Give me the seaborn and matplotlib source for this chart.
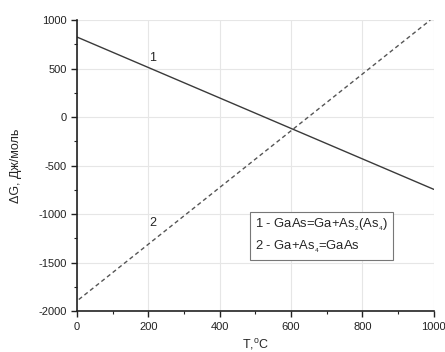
import numpy as np
import pandas as pd
import matplotlib
matplotlib.use("Agg")
import matplotlib.pyplot as plt
from matplotlib.ticker import MultipleLocator
import seaborn as sns

# Data
t1 = [0, 1000]
g1 = [825, -745]
t2 = [5, 990]
g2 = [-1880, 1000]
curve_labels = ["1", "2"]
legend_lines = ["1 - GaAs=Ga+As$_{_2}$(As$_{_4}$)", "2 - Ga+As$_{_4}$=GaAs"]

sns.set_style("ticks")
plt.rcParams['font.family'] = ['Liberation Sans', 'DejaVu Sans']
plt.rcParams['axes.unicode_minus'] = False
plt.rcParams['mathtext.fontset'] = 'custom'
plt.rcParams['mathtext.rm'] = 'Liberation Sans'
plt.rcParams['mathtext.it'] = 'Liberation Sans'

fig = plt.figure(figsize=(4.45, 3.52), dpi=100)
ax = fig.add_axes([0.173, 0.116, 0.802, 0.827])

df1 = pd.DataFrame({"T": t1, "G": g1})
df2 = pd.DataFrame({"T": t2, "G": g2})
sns.lineplot(data=df1, x="T", y="G", ax=ax, color="#3a3a3a", lw=1.0)
sns.lineplot(data=df2, x="T", y="G", ax=ax, color="#555555", lw=1.0,
             linestyle=(0, (3, 2.2)))

ax.set_xlim(0, 1000)
ax.set_ylim(-2000, 1000)
ax.xaxis.set_major_locator(MultipleLocator(200))
ax.xaxis.set_minor_locator(MultipleLocator(100))
ax.yaxis.set_major_locator(MultipleLocator(500))
ax.yaxis.set_minor_locator(MultipleLocator(250))
ax.grid(True, which="major", color="#e6e6e6", lw=0.8)
ax.set_axisbelow(True)
for s in ["top", "right"]:
    ax.spines[s].set_visible(False)
for s in ["left", "bottom"]:
    ax.spines[s].set_linewidth(1.2)
    ax.spines[s].set_color("#222222")
ax.tick_params(which="major", length=4, width=1.0, labelsize=8, colors="#222222")
ax.tick_params(which="minor", length=2.5, width=0.8, colors="#222222")

ax.set_xlabel("T,$^{\\mathrm{o}}$C", fontsize=9)
ax.set_ylabel("ΔG, Дж/моль", fontsize=9, labelpad=12)

ax.text(213, 608, curve_labels[0], fontsize=9, ha="center", va="center")
ax.text(213, -1095, curve_labels[1], fontsize=9, ha="center", va="center")

ax.text(0.50, 0.259, legend_lines[0] + "\n" + legend_lines[1], transform=ax.transAxes,
        fontsize=9.4, ha="left", va="center", linespacing=1.45,
        bbox=dict(boxstyle="square,pad=0.4", fc="white", ec="#777777", lw=0.8))

fig.savefig("out.png", dpi=100)
